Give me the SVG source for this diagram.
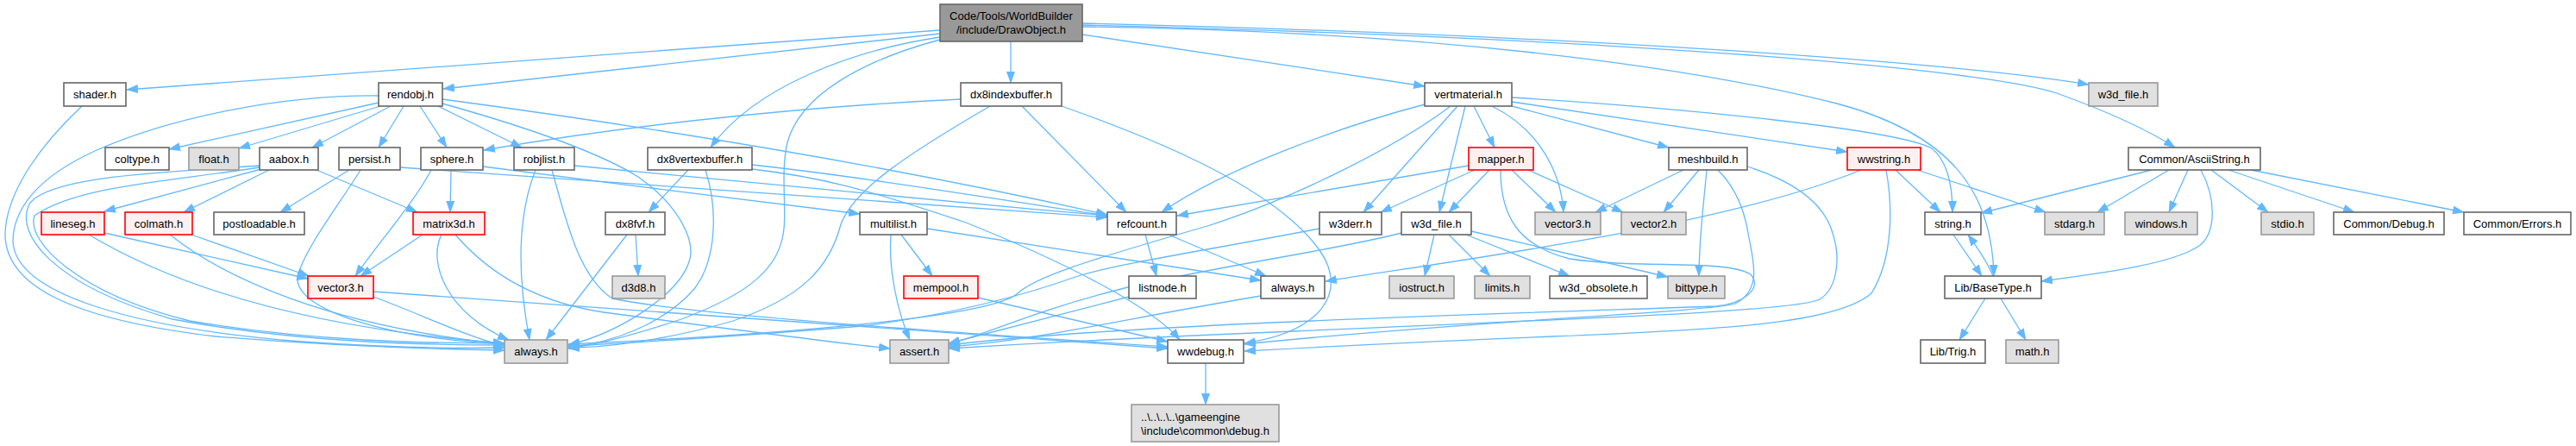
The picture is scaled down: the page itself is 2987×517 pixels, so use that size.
<svg xmlns="http://www.w3.org/2000/svg" width="2987" height="517" viewBox="0 0 2987 517">
<style>
rect{stroke-width:1.6}
.n rect{fill:#fff;stroke:#666}
.g rect{fill:#e0e0e0;stroke:#999}
.r rect{fill:#fff0f0;stroke:#f00}
.root rect{fill:#999;stroke:#666}
text{font-family:"Liberation Sans",Arial,sans-serif;font-size:13px;fill:#000;text-anchor:middle}
.e path{fill:none;stroke:#63b8ff;stroke-width:1.3;marker-end:url(#a)}
</style>
<defs>
<marker id="a" viewBox="0 0 14 10" refX="13" refY="5" markerWidth="14" markerHeight="10" markerUnits="userSpaceOnUse" orient="auto"><path d="M0,0L14,5L0,10z" fill="#63b8ff"/></marker>
</defs>
<rect width="2987" height="517" fill="#fff"/>
<g class="e" id="edges">
<path d="M1090,35 L147,104"/>
<path d="M1090,39 L514,103"/>
<path d="M1090,43 C990,58 875,100 824,171"/>
<path d="M1090,46 C1000,70 928,110 913,165 C905,200 912,240 909,265 C905,310 870,340 790,370 C730,390 690,400 659,404"/>
<path d="M1172,48 L1172,96"/>
<path d="M1255,40 L1652,100"/>
<path d="M1255,27 C1800,40 2250,70 2422,98"/>
<path d="M1255,29 C1900,45 2300,80 2385,108 C2440,128 2490,150 2522,171"/>
<path d="M1255,31 C1650,36 1950,75 2130,120 C2260,155 2310,220 2312,320"/>
<path d="M95,123 C50,165 8,220 6,270 C5,330 80,370 250,390 C400,402 520,405 585,406"/>
<path d="M439,119 L196,173"/>
<path d="M441,123 L277,172"/>
<path d="M453,123 L362,171"/>
<path d="M468,123 L439,171"/>
<path d="M487,123 L518,171"/>
<path d="M508,123 L605,171"/>
<path d="M513,115 C700,140 1000,185 1284,249"/>
<path d="M439,111 C330,110 200,135 110,175 C40,207 15,245 15,280 C18,340 150,380 350,396 C450,403 530,404 585,403"/>
<path d="M513,120 C620,150 700,180 740,205 C790,240 805,280 800,300 C790,340 720,385 659,400"/>
<path d="M301,192 C180,200 60,205 35,235 C15,270 60,330 200,370 C350,398 500,400 585,400"/>
<path d="M301,194 C200,210 90,215 40,250 C30,280 90,340 220,372 C360,396 500,398 585,398"/>
<path d="M303,196 L121,245"/>
<path d="M312,197 L213,246"/>
<path d="M367,197 L484,246"/>
<path d="M405,197 L325,246"/>
<path d="M418,197 C395,235 355,285 345,320 C340,360 450,392 585,399"/>
<path d="M464,194 C600,205 950,228 1284,252"/>
<path d="M500,197 C480,235 440,280 412,320"/>
<path d="M523,197 L522,246"/>
<path d="M560,193 C700,212 900,235 997,248"/>
<path d="M621,197 C600,250 600,320 614,394"/>
<path d="M666,192 C800,205 1050,230 1284,250"/>
<path d="M640,197 C655,250 670,320 710,346 C800,365 1100,385 1354,402"/>
<path d="M1114,115 C900,125 700,150 561,174"/>
<path d="M1148,123 C1050,180 990,220 975,260 C962,310 930,345 850,372 C770,395 700,403 659,403"/>
<path d="M1185,123 L1306,246"/>
<path d="M1231,123 C1350,165 1480,220 1530,290 C1565,340 1530,385 1443,398"/>
<path d="M798,197 L752,246"/>
<path d="M818,197 C832,240 832,300 805,335 C770,375 710,398 659,402"/>
<path d="M872,191 C1000,205 1150,230 1284,250"/>
<path d="M872,196 C950,205 1000,218 1120,258 C1250,310 1340,360 1368,394"/>
<path d="M1045,272 L1081,320"/>
<path d="M1033,272 C1030,310 1040,360 1055,394"/>
<path d="M1075,265 L1462,325"/>
<path d="M1328,272 L1341,320"/>
<path d="M1355,272 L1468,320"/>
<path d="M1309,344 L1100,398"/>
<path d="M1134,345 L1354,396"/>
<path d="M1462,343 C1300,370 1200,395 1100,402"/>
<path d="M1398,421 L1398,469"/>
<path d="M1652,121 C1560,145 1420,195 1347,246"/>
<path d="M1682,123 C1620,170 1500,230 1400,262 C1250,305 1200,322 1180,340 C1150,368 900,388 659,399"/>
<path d="M1690,123 L1581,246"/>
<path d="M1699,123 L1669,246"/>
<path d="M1709,123 L1733,171"/>
<path d="M1730,123 C1785,150 1810,200 1813,246"/>
<path d="M1753,123 L1935,171"/>
<path d="M1753,118 L2142,176"/>
<path d="M1753,113 C1950,125 2200,150 2240,172 C2260,188 2264,220 2264,246"/>
<path d="M1703,192 L1365,250"/>
<path d="M1710,197 L1601,246"/>
<path d="M1727,197 L1680,246"/>
<path d="M1753,197 L1804,246"/>
<path d="M1772,197 L1882,246"/>
<path d="M1740,197 C1740,250 1760,285 1820,300 C1900,312 2000,300 2030,318 C2045,335 2020,352 1990,355 C1800,362 1300,375 1100,400"/>
<path d="M1952,197 L1850,246"/>
<path d="M1970,197 L1929,246"/>
<path d="M1979,197 C1975,240 1970,280 1970,320"/>
<path d="M1992,197 C2010,215 2022,240 2027,270 C2032,300 2045,335 2012,352 C1980,362 1700,372 1443,399"/>
<path d="M2026,193 C2080,210 2115,235 2125,270 C2135,300 2130,335 2110,347 C2080,362 1800,370 1500,384 C1350,390 1200,398 1100,404"/>
<path d="M2158,197 C2000,262 1700,300 1537,326"/>
<path d="M2198,197 L2250,246"/>
<path d="M2223,197 L2372,246"/>
<path d="M2187,197 C2195,240 2195,300 2170,340 C2130,375 2000,382 1800,390 C1600,398 1500,404 1443,407"/>
<path d="M2265,272 L2298,320"/>
<path d="M2311,320 C2305,305 2295,290 2282,272"/>
<path d="M2302,346 L2272,394"/>
<path d="M2320,346 L2349,394"/>
<path d="M2495,197 L2297,247"/>
<path d="M2515,197 L2432,246"/>
<path d="M2537,197 L2515,246"/>
<path d="M2552,197 C2570,230 2570,270 2550,285 C2520,305 2450,315 2367,326"/>
<path d="M2564,197 L2630,246"/>
<path d="M2584,197 L2730,246"/>
<path d="M2610,197 L2857,246"/>
<path d="M1663,272 L1652,320"/>
<path d="M1680,272 L1728,320"/>
<path d="M1700,272 L1820,320"/>
<path d="M1706,268 L1934,321"/>
<path d="M1625,270 C1550,290 1400,310 1300,335 C1200,360 1150,385 1100,399"/>
<path d="M1530,265 C1400,290 1300,305 1250,320 C1180,345 1100,365 1000,378 C850,390 720,398 659,401"/>
<path d="M433,344 C490,365 540,390 585,401"/>
<path d="M433,338 C600,350 1000,378 1354,404"/>
<path d="M490,272 L418,320"/>
<path d="M512,272 C495,305 520,365 590,394"/>
<path d="M528,272 C565,315 620,350 700,362 C850,382 950,395 1032,404"/>
<path d="M121,270 L357,323"/>
<path d="M103,272 C180,318 320,378 585,398"/>
<path d="M222,272 L358,320"/>
<path d="M197,272 C260,322 380,378 585,399"/>
<path d="M737,272 L740,320"/>
<path d="M727,272 L633,394"/>
</g>
<g id="n-root" class="root"><rect x="1090" y="5" width="165" height="43"/><text x="1172.5" y="23">Code/Tools/WorldBuilder</text><text x="1172.5" y="39">/include/DrawObject.h</text></g>
<g id="n-shader" class="n"><rect x="74" y="96" width="72" height="27"/><text x="110" y="114">shader.h</text></g>
<g id="n-rendobj" class="n"><rect x="439" y="96" width="74" height="27"/><text x="476" y="114">rendobj.h</text></g>
<g id="n-dx8indexbuffer" class="n"><rect x="1114" y="96" width="117" height="27"/><text x="1172.5" y="114">dx8indexbuffer.h</text></g>
<g id="n-vertmaterial" class="n"><rect x="1652" y="96" width="101" height="27"/><text x="1702.5" y="114">vertmaterial.h</text></g>
<g id="n-w3d_file_sys" class="g"><rect x="2422" y="96" width="80" height="27"/><text x="2462" y="114">w3d_file.h</text></g>
<g id="n-coltype" class="n"><rect x="122" y="171" width="74" height="26"/><text x="159" y="188.5">coltype.h</text></g>
<g id="n-float" class="g"><rect x="219" y="171" width="58" height="26"/><text x="248" y="188.5">float.h</text></g>
<g id="n-aabox" class="n"><rect x="301" y="171" width="68" height="26"/><text x="335" y="188.5">aabox.h</text></g>
<g id="n-persist" class="n"><rect x="393" y="171" width="71" height="26"/><text x="428.5" y="188.5">persist.h</text></g>
<g id="n-sphere" class="n"><rect x="488" y="171" width="72" height="26"/><text x="524" y="188.5">sphere.h</text></g>
<g id="n-robjlist" class="n"><rect x="596" y="171" width="70" height="26"/><text x="631" y="188.5">robjlist.h</text></g>
<g id="n-dx8vertexbuffer" class="n"><rect x="751" y="171" width="121" height="26"/><text x="811.5" y="188.5">dx8vertexbuffer.h</text></g>
<g id="n-mapper" class="r"><rect x="1703" y="171" width="75" height="26"/><text x="1740.5" y="188.5">mapper.h</text></g>
<g id="n-meshbuild" class="n"><rect x="1935" y="171" width="91" height="26"/><text x="1980.5" y="188.5">meshbuild.h</text></g>
<g id="n-wwstring" class="r"><rect x="2142" y="171" width="85" height="26"/><text x="2184.5" y="188.5">wwstring.h</text></g>
<g id="n-asciistring" class="n"><rect x="2468" y="171" width="153" height="26"/><text x="2544.5" y="188.5">Common/AsciiString.h</text></g>
<g id="n-lineseg" class="r"><rect x="48" y="246" width="73" height="26"/><text x="84.5" y="263.5">lineseg.h</text></g>
<g id="n-colmath" class="r"><rect x="145" y="246" width="78" height="26"/><text x="184" y="263.5">colmath.h</text></g>
<g id="n-postloadable" class="n"><rect x="248" y="246" width="105" height="26"/><text x="300.5" y="263.5">postloadable.h</text></g>
<g id="n-matrix3d" class="r"><rect x="479" y="246" width="83" height="26"/><text x="520.5" y="263.5">matrix3d.h</text></g>
<g id="n-dx8fvf" class="n"><rect x="702" y="246" width="69" height="26"/><text x="736.5" y="263.5">dx8fvf.h</text></g>
<g id="n-multilist" class="n"><rect x="997" y="246" width="78" height="26"/><text x="1036" y="263.5">multilist.h</text></g>
<g id="n-refcount" class="n"><rect x="1284" y="246" width="80" height="26"/><text x="1324" y="263.5">refcount.h</text></g>
<g id="n-w3derr" class="n"><rect x="1530" y="246" width="72" height="26"/><text x="1566" y="263.5">w3derr.h</text></g>
<g id="n-w3d_file" class="n"><rect x="1625" y="246" width="81" height="26"/><text x="1665.5" y="263.5">w3d_file.h</text></g>
<g id="n-vector3_sys" class="g"><rect x="1780" y="246" width="76" height="26"/><text x="1818" y="263.5">vector3.h</text></g>
<g id="n-vector2" class="g"><rect x="1880" y="246" width="75" height="26"/><text x="1917.5" y="263.5">vector2.h</text></g>
<g id="n-string" class="n"><rect x="2232" y="246" width="65" height="26"/><text x="2264.5" y="263.5">string.h</text></g>
<g id="n-stdarg" class="g"><rect x="2371" y="246" width="69" height="26"/><text x="2405.5" y="263.5">stdarg.h</text></g>
<g id="n-windows" class="g"><rect x="2464" y="246" width="84" height="26"/><text x="2506" y="263.5">windows.h</text></g>
<g id="n-stdio" class="g"><rect x="2622" y="246" width="61" height="26"/><text x="2652.5" y="263.5">stdio.h</text></g>
<g id="n-commondebug" class="n"><rect x="2706" y="246" width="128" height="26"/><text x="2770" y="263.5">Common/Debug.h</text></g>
<g id="n-commonerrors" class="n"><rect x="2857" y="246" width="124" height="26"/><text x="2919" y="263.5">Common/Errors.h</text></g>
<g id="n-vector3" class="r"><rect x="357" y="320" width="76" height="26"/><text x="395" y="337.5">vector3.h</text></g>
<g id="n-d3d8" class="g"><rect x="710" y="320" width="61" height="26"/><text x="740.5" y="337.5">d3d8.h</text></g>
<g id="n-mempool" class="r"><rect x="1048" y="320" width="86" height="26"/><text x="1091" y="337.5">mempool.h</text></g>
<g id="n-listnode" class="n"><rect x="1309" y="320" width="78" height="26"/><text x="1348" y="337.5">listnode.h</text></g>
<g id="n-always_w" class="n"><rect x="1462" y="320" width="74" height="26"/><text x="1499" y="337.5">always.h</text></g>
<g id="n-iostruct" class="g"><rect x="1611" y="320" width="75" height="26"/><text x="1648.5" y="337.5">iostruct.h</text></g>
<g id="n-limits" class="g"><rect x="1710" y="320" width="64" height="26"/><text x="1742" y="337.5">limits.h</text></g>
<g id="n-w3d_obsolete" class="n"><rect x="1797" y="320" width="113" height="26"/><text x="1853.5" y="337.5">w3d_obsolete.h</text></g>
<g id="n-bittype" class="g"><rect x="1934" y="320" width="66" height="26"/><text x="1967" y="337.5">bittype.h</text></g>
<g id="n-basetype" class="n"><rect x="2255" y="320" width="112" height="26"/><text x="2311" y="337.5">Lib/BaseType.h</text></g>
<g id="n-always" class="g"><rect x="585" y="394" width="73" height="27"/><text x="621.5" y="412">always.h</text></g>
<g id="n-assert" class="g"><rect x="1032" y="394" width="68" height="27"/><text x="1066" y="412">assert.h</text></g>
<g id="n-wwdebug" class="n"><rect x="1354" y="394" width="88" height="27"/><text x="1398" y="412">wwdebug.h</text></g>
<g id="n-trig" class="n"><rect x="2227" y="394" width="75" height="27"/><text x="2264.5" y="412">Lib/Trig.h</text></g>
<g id="n-math" class="g"><rect x="2326" y="394" width="61" height="27"/><text x="2356.5" y="412">math.h</text></g>
<g id="n-debug" class="g"><rect x="1312" y="469" width="171" height="43"/><text x="1323" y="488" style="text-anchor:start">..\..\..\..\gameengine</text><text x="1323" y="504" style="text-anchor:start">\include\common\debug.h</text></g>
</svg>
